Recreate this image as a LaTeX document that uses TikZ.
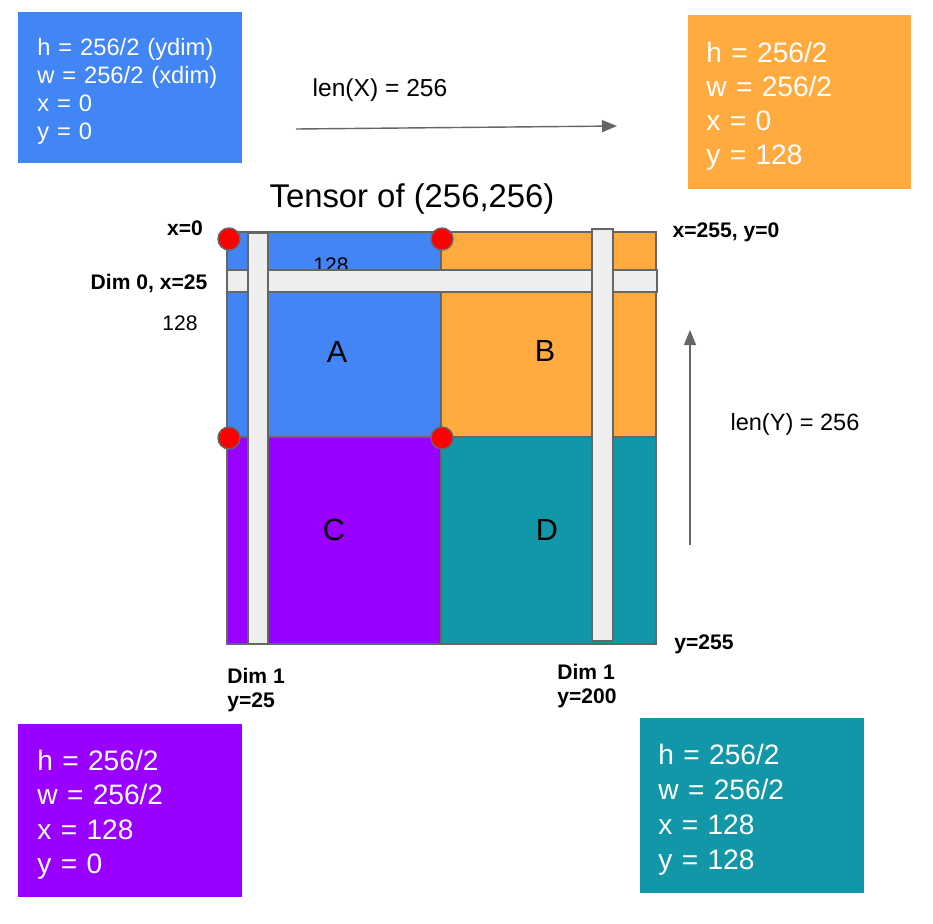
\documentclass[tikz,border=0pt]{standalone}
\usepackage{fontspec}
\setmainfont{Liberation Sans}
\usetikzlibrary{positioning,calc,arrows.meta}
\definecolor{gblue}{HTML}{4285F4}
\definecolor{gorange}{HTML}{FFAB40}
\definecolor{gpurple}{HTML}{9900FF}
\definecolor{gteal}{HTML}{1297A9}
\definecolor{edgegray}{HTML}{666666}
\definecolor{stripgray}{HTML}{EEEEEE}

\begin{document}
\begin{tikzpicture}[
      x=0.02cm, y=-0.02cm,
      infobox/.style={rectangle, anchor=north west, text=white, align=left, minimum width=4.48cm, text width=3.72cm, inner xsep=0.38cm, execute at begin node={\rule{0pt}{1em}}},
      quad/.style={rectangle, draw=edgegray, line width=1pt, inner sep=0pt},
      strip/.style={rectangle, draw=edgegray, line width=1pt, fill=stripgray, inner sep=0pt},
      corner/.style={circle, draw=edgegray, line width=0.8pt, fill=red, minimum size=0.44cm, inner sep=0pt},
      letter/.style={font=\fontsize{17.4}{20}\selectfont},
      small/.style={font=\fontsize{12}{14}\selectfont},
      bold/.style={font=\fontsize{12}{14}\selectfont\bfseries, align=left},
      arrow/.style={-{Triangle[length=0.3cm, width=0.24cm]}, draw=edgegray, fill=edgegray, line width=0.8pt},
    ]
    \useasboundingbox (0,0) rectangle (933,923);

    \node [infobox, fill=gblue, minimum height=3.02cm, font=\fontsize{13.5}{15.9}\selectfont] (boxA) at (18,12) {h = 256/2 (ydim)\\w = 256/2 (xdim)\\x = 0\\y = 0};
    \node [infobox, fill=gorange, minimum height=3.48cm, minimum width=4.46cm, inner xsep=0.36cm, text width=3.74cm, font=\fontsize{16}{19.3}\selectfont] (boxB) at (688,15) {h = 256/2\\w = 256/2\\x = 0\\y = 128};
    \node [infobox, fill=gpurple, minimum height=3.46cm, font=\fontsize{16}{19.7}\selectfont] (boxC) at (18,724) {h = 256/2\\w = 256/2\\x = 128\\y = 0};
    \node [infobox, fill=gteal, minimum height=3.5cm, inner xsep=0.36cm, text width=3.76cm, font=\fontsize{16}{19.8}\selectfont] (boxD) at (640,718) {h = 256/2\\w = 256/2\\x = 128\\y = 128};

    \coordinate (xstart) at (296,129);
    \coordinate (xend) at (617,126);
    \coordinate (ystart) at (690,545);
    \coordinate (yend) at (690,330);
    \draw [arrow] (xstart) -- (xend);
    \draw [arrow] (ystart) -- (yend);
    \node [font=\fontsize{14}{16}\selectfont] (lenx) at (380,90) {len(X) = 256};
    \node [font=\fontsize{13.4}{16}\selectfont] (leny) at (795,424) {len(Y) = 256};

    \node [font=\fontsize{18.7}{22}\selectfont] (title) at (412,199) {Tensor of (256,256)};

    \node [quad, fill=gblue, minimum width=4.28cm, minimum height=4.1cm] (qA) at (334,334.5) {};
    \node [quad, fill=gorange, minimum width=4.3cm, minimum height=4.1cm] (qB) at (548.5,334.5) {};
    \node [quad, fill=gpurple, minimum width=4.28cm, minimum height=4.14cm] (qC) at (334,540.5) {};
    \node [quad, fill=gteal, minimum width=4.3cm, minimum height=4.14cm] (qD) at (548.5,540.5) {};

    \node [letter] (A) at (337,352) {A};
    \node [letter] (B) at (545,351) {B};
    \node [letter] (C) at (334,530) {C};
    \node [letter] (D) at (547,530) {D};
    \node [small] (wa) at (331,265) {128};

    \node [strip, minimum width=8.6cm, minimum height=0.44cm] (dimzero) at (442,281) {};
    \node [strip, minimum width=0.4cm, minimum height=8.22cm] (dimone) at (258,438.5) {};
    \node [strip, minimum width=0.42cm, minimum height=8.24cm] (dimtwo) at (602.5,435) {};

    \node [corner] (ca) at (229,239) {};
    \node [corner] (cb) at (442,239) {};
    \node [corner] (cc) at (229,438) {};
    \node [corner] (cd) at (442,438) {};

    \node [bold] (xzero) at (185,228) {x=0};
    \node [bold] (dimzerolabel) at (149,283) {Dim 0, x=25};
    \node [small] (ha) at (180,323) {128};
    \node [bold] (topright) at (726,232) {x=255, y=0};
    \node [bold] (bottomright) at (704,644) {y=255};
    \node [bold, anchor=west, inner sep=0pt] (dimonelabel) at (227,690) {Dim 1\\y=25};
    \node [bold, anchor=west, inner sep=0pt] (dimtwolabel) at (557,686) {Dim 1\\y=200};
  \end{tikzpicture}
\end{document}
